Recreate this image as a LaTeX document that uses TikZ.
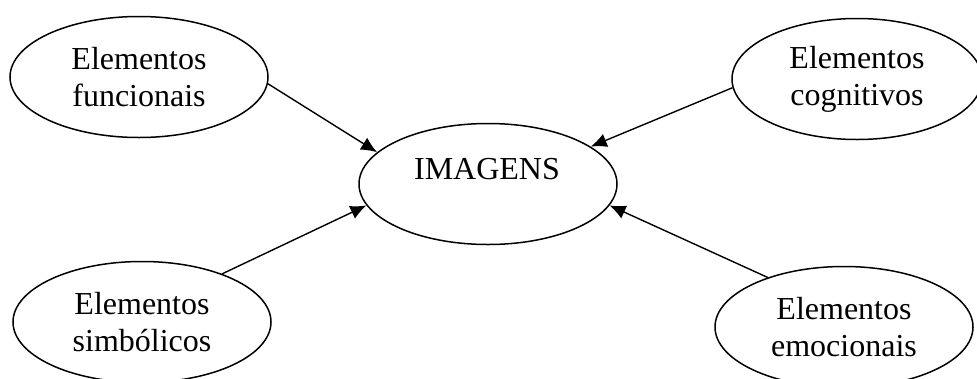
\documentclass[tikz,border=0pt]{standalone}
\usepackage{fontspec}
\setmainfont{Liberation Serif}
\usetikzlibrary{shapes.geometric,arrows.meta}

\begin{document}
\begin{tikzpicture}[x=1pt,y=-1pt,>={Latex[length=16pt,width=14pt]},
    elem/.style={draw,ellipse,line width=1.5pt,inner sep=0pt,minimum width=258pt,minimum height=121pt,align=center,font=\fontsize{32}{37}\selectfont},
    link/.style={->,line width=1.4pt}]
    \useasboundingbox (0,0) rectangle (977,378);
    \node at (139,77)[elem] (fun){Elementos\\funcionais};
    \node at (857,79)[elem,minimum width=250pt] (cog){Elementos\\cognitivos};
    \node at (142,322)[elem] (sim){Elementos\\simbólicos};
    \node at (844,327)[elem] (emo){Elementos\\emocionais};
    \node at (488,184)[elem] (img){};
    \node at (487,169)[font=\fontsize{32}{37}\selectfont] (imgtxt){IMAGENS};
    \draw[link] (fun.-3) -- (img.164);
    \draw[link] (cog.184) -- (img.20);
    \draw[link] (sim.31) -- (img.190);
    \draw[link] (emo.147) -- (img.-10);
  \end{tikzpicture}
\end{document}
